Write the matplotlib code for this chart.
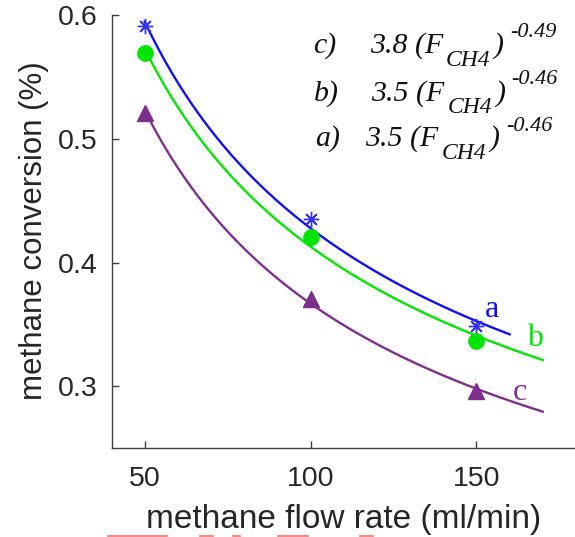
import numpy as np
import matplotlib
matplotlib.use("Agg")
import matplotlib.pyplot as plt
from matplotlib.lines import Line2D

# ---- data ----
flow = [50, 100, 150]
conv_a = [0.591, 0.435, 0.349]
conv_b = [0.569, 0.4205, 0.337]
conv_c = [0.521, 0.371, 0.296]
fit_end = [160, 170, 170]
series_labels = ["a", "b", "c"]
eq_labels = ["c)", "b)", "a)"]
eq_coefs = ["3.8", "3.5", "3.5"]
eq_exps = ["-0.49", "-0.46", "-0.46"]
xticks = [50, 100, 150]
yticks = [0.3, 0.4, 0.5, 0.6]

colors = ["#1010f5", "#00e400", "#7e2f8e"]
marker_colors = ["#3030ff", "#00e400", "#7e2f8e"]

fig = plt.figure(figsize=(5.75, 5.37), dpi=100)
ax = fig.add_axes([111.5 / 575, 88.7 / 537, (576 - 111.5) / 575, (522 - 88.7) / 537])

series = [conv_a, conv_b, conv_c]
markers = [(8, 2, 0), "o", "^"]
msizes = [11, 11, 11]
for ys, c, mc, m, ms, xe in zip(series, colors, marker_colors, markers, msizes, fit_end):
    p = np.polyfit(np.log(flow), np.log(ys), 1)
    xx = np.linspace(flow[0], xe, 300)
    ax.plot(xx, np.exp(np.polyval(p, np.log(xx))), color=c, lw=1.7, zorder=2)
    if m == (8, 2, 0):
        ax.plot(flow, ys, linestyle="none", marker=m, ms=ms, color=mc,
                markeredgewidth=1.0, zorder=3)
    else:
        ax.plot(flow, ys, linestyle="none", marker=m, ms=ms, color=mc,
                markeredgecolor=mc, zorder=3)

ax.set_xlim(40, 180)
ax.set_ylim(0.25, 0.6)
ax.set_xticks(xticks)
ax.set_yticks(yticks)
ax.set_xticklabels([str(v) for v in xticks])
ax.set_yticklabels([f"{v:.1f}" for v in yticks])

for s in ["top", "right"]:
    ax.spines[s].set_visible(False)
for s in ["left", "bottom"]:
    ax.spines[s].set_color("#404040")
    ax.spines[s].set_linewidth(1.0)

sans = "Liberation Sans"
ax.tick_params(direction="in", length=5, width=1, colors="#404040",
               labelcolor="#262626", labelsize=20.5)
ax.tick_params(axis="x", pad=13)
ax.tick_params(axis="y", pad=10)
for lab in ax.get_xticklabels() + ax.get_yticklabels():
    lab.set_fontfamily(sans)

ax.set_xlabel("methane flow rate (ml/min)", fontsize=24, family=sans,
              color="#262626")
ax.xaxis.set_label_coords((344 - 111.5) / (576 - 111.5), -(535 - 448.3) / 433.3)
ax.xaxis.label.set_va("bottom")
ax.set_ylabel("methane conversion (%)", fontsize=22.5, family=sans, color="#262626")
ax.yaxis.set_label_coords(-(111.5 - 19) / 464.5, (448.3 - 231) / 433.3)
ax.yaxis.label.set_va("top")

# series labels
serif = "Liberation Serif"
lab_pos_x = [152.4, 165.1, 160.8]
lab_pos_y = [0.356, 0.3324, 0.2891]
for t, c, x, y in zip(series_labels, colors, lab_pos_x, lab_pos_y):
    ax.text(x, y, t, color=c, fontsize=23, family=serif, va="baseline",
            ha="left", clip_on=False)

# equations
eq_x = [(100.9, 117.8, 131.9, 140.7, 155.1, 160.1),
        (100.9, 118.3, 132.4, 141.3, 155.6, 160.6),
        (101.4, 116.4, 130.8, 139.6, 154.0, 159.0)]
eq_y = [(0.5693, 0.5591, 0.5823),
        (0.5306, 0.5209, 0.5444),
        (0.4947, 0.4836, 0.5066)]
for lbl, coef, ex, xs, ys in zip(eq_labels, eq_coefs, eq_exps, eq_x, eq_y):
    kw = dict(family=serif, style="italic", color="#111111", va="baseline",
              ha="left", clip_on=False)
    ax.text(xs[0], ys[0], lbl, fontsize=21.5, **kw)
    ax.text(xs[1], ys[0], coef + " (F", fontsize=21.5, **kw)
    ax.text(xs[3], ys[1], "CH4", fontsize=17, **kw)
    ax.text(xs[4], ys[0], ")", fontsize=21.5, **kw)
    ax.text(xs[5], ys[2], ex, fontsize=16, **kw)

# faint red underline marks at the bottom edge
for x0, x1 in [(108, 167), (200, 213), (233, 240), (278, 308), (360, 373)]:
    fig.add_artist(Line2D([x0 / 575, x1 / 575], [1.2 / 537, 1.2 / 537],
                          color="#ff7070", lw=1.2, transform=fig.transFigure))

fig.savefig("out.png", dpi=100)
